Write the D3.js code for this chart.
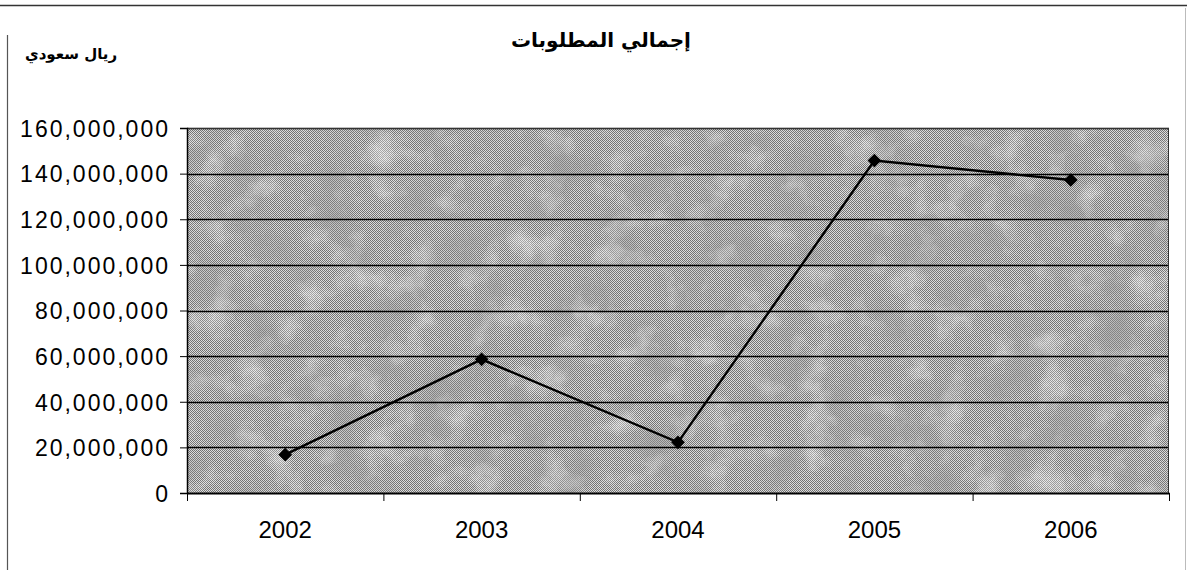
<!DOCTYPE html>
<html>
<head>
<meta charset="utf-8">
<script src="https://cdn.jsdelivr.net/npm/d3@7"></script>
<style>
html,body{margin:0;padding:0;background:#fff;}
svg{display:block;}
</style>
</head>
<body>
<svg id="chart" width="1187" height="570"></svg>
<script>
const categories = ["2002","2003","2004","2005","2006"];
const values = [16800000, 58600000, 22200000, 145700000, 137200000];
const yTicks = [0,20000000,40000000,60000000,80000000,100000000,120000000,140000000,160000000];
const titleText = "إجمالي المطلوبات";
const unitText = "ريال سعودي";

const svg = d3.select("#chart");
const W = 1187, H = 570;
const plot = {left:187, right:1169, top:128, bottom:493};

const defs = svg.append("defs");
// checker dither pattern
const pat = defs.append("pattern").attr("id","checker").attr("patternUnits","userSpaceOnUse")
  .attr("width",2).attr("height",2);
pat.append("rect").attr("width",2).attr("height",2).attr("fill","#e0e0e0");
pat.append("rect").attr("width",1).attr("height",1).attr("fill","#707070").attr("shape-rendering","crispEdges");
pat.append("rect").attr("x",1).attr("y",1).attr("width",1).attr("height",1).attr("fill","#707070").attr("shape-rendering","crispEdges");

// light mottled patches
const f = defs.append("filter").attr("id","tex").attr("x",0).attr("y",0).attr("width","100%").attr("height","100%");
f.append("feTurbulence").attr("type","fractalNoise").attr("baseFrequency","0.03").attr("numOctaves",4).attr("seed",11).attr("result","n");
f.append("feColorMatrix").attr("in","n").attr("type","matrix")
 .attr("values","0 0 0 0 1  0 0 0 0 1  0 0 0 0 1  2.2 0 0 0 -1.15");
// dark mottled patches
const f3 = defs.append("filter").attr("id","tex2").attr("x",0).attr("y",0).attr("width","100%").attr("height","100%");
f3.append("feTurbulence").attr("type","fractalNoise").attr("baseFrequency","0.022").attr("numOctaves",3).attr("seed",29).attr("result","n");
f3.append("feColorMatrix").attr("in","n").attr("type","matrix")
 .attr("values","0 0 0 0 0.3  0 0 0 0 0.3  0 0 0 0 0.3  0 2.2 0 0 -1.05");
// fine grain
const f2 = defs.append("filter").attr("id","grain").attr("x",0).attr("y",0).attr("width","100%").attr("height","100%");
f2.append("feTurbulence").attr("type","fractalNoise").attr("baseFrequency","0.8").attr("numOctaves",1).attr("seed",3).attr("result","n");
f2.append("feColorMatrix").attr("in","n").attr("type","matrix")
 .attr("values","0 0 0 0 0.35  0 0 0 0 0.35  0 0 0 0 0.35  1.6 0 0 0 -0.7");

// outer frame
svg.append("line").attr("x1",0).attr("x2",W).attr("y1",5.5).attr("y2",5.5).attr("stroke","#333").attr("stroke-width",1.5);
svg.append("line").attr("x1",7.5).attr("x2",7.5).attr("y1",35).attr("y2",H).attr("stroke","#555").attr("stroke-width",1.2);
svg.append("line").attr("x1",1185.5).attr("x2",1185.5).attr("y1",8).attr("y2",H).attr("stroke","#bbb").attr("stroke-width",1);

const x = d3.scaleBand().domain(categories).range([plot.left, plot.right]).padding(0);
const y = d3.scaleLinear().domain([0,160000000]).range([plot.bottom, plot.top]);

// plot background texture
const pw = plot.right-plot.left, ph = plot.bottom-plot.top;
const bg = svg.append("g");
bg.append("rect").attr("x",plot.left).attr("y",plot.top).attr("width",pw).attr("height",ph).attr("fill","url(#checker)");
bg.append("rect").attr("x",plot.left).attr("y",plot.top).attr("width",pw).attr("height",ph).attr("filter","url(#tex2)").attr("opacity",0.6);
bg.append("rect").attr("x",plot.left).attr("y",plot.top).attr("width",pw).attr("height",ph).attr("filter","url(#tex)").attr("opacity",0.5);
bg.append("rect").attr("x",plot.left).attr("y",plot.top).attr("width",pw).attr("height",ph).attr("filter","url(#grain)").attr("opacity",0.6);

// gridlines
svg.append("g").selectAll("line").data(yTicks.filter(d=>d>0)).join("line")
  .attr("x1",plot.left).attr("x2",plot.right)
  .attr("y1",d=>Math.round(y(d))+0.5).attr("y2",d=>Math.round(y(d))+0.5)
  .attr("stroke","#000").attr("stroke-width",1.3);

// plot border (top/right)
svg.append("rect").attr("x",plot.left+0.5).attr("y",plot.top+0.5).attr("width",pw-1).attr("height",ph)
  .attr("fill","none").attr("stroke","#333").attr("stroke-width",1);

// y axis
const yAxis = svg.append("g").attr("transform",`translate(${plot.left},0)`)
  .call(d3.axisLeft(y).tickValues(yTicks).tickFormat(d3.format(",")).tickSize(7).tickPadding(10));
yAxis.select(".domain").attr("stroke","#000").attr("stroke-width",1.5);
yAxis.selectAll(".tick line").attr("stroke","#000");
yAxis.selectAll("text").attr("font-family","'Liberation Sans', Arial, sans-serif").attr("font-size","23px")
  .attr("letter-spacing","2px").attr("fill","#000").attr("dy","0.36em");

// x axis
const xAxis = svg.append("g").attr("transform",`translate(0,${plot.bottom})`)
  .call(d3.axisBottom(x).tickSize(0).tickPadding(28));
xAxis.select(".domain").attr("stroke","#000").attr("stroke-width",2);
xAxis.selectAll("text").attr("font-family","'Liberation Sans', Arial, sans-serif").attr("font-size","24px").attr("fill","#000");
const bounds = categories.map(c=>x(c)).concat([plot.right]);
xAxis.selectAll(".bnd").data(bounds).join("line").attr("class","bnd")
  .attr("x1",d=>d+0.5).attr("x2",d=>d+0.5).attr("y1",0).attr("y2",8).attr("stroke","#000");

// line
const data = categories.map((c,i)=>({c, v:values[i]}));
const line = d3.line().x(d=>x(d.c)+x.bandwidth()/2).y(d=>y(d.v));
svg.append("path").datum(data).attr("d",line).attr("fill","none").attr("stroke","#000").attr("stroke-width",2.4);
svg.append("g").selectAll("path").data(data).join("path")
  .attr("d",d3.symbol().type(d3.symbolDiamond2).size(120))
  .attr("transform",d=>`translate(${x(d.c)+x.bandwidth()/2},${y(d.v)})`)
  .attr("fill","#000");

// title
svg.append("text").attr("x",601).attr("y",47).attr("text-anchor","middle")
  .attr("font-family","'DejaVu Sans', 'Noto Sans', sans-serif").attr("font-weight","bold").attr("font-size","20px")
  .attr("direction","rtl").text(titleText);
svg.append("text").attr("x",71).attr("y",59).attr("text-anchor","middle")
  .attr("font-family","'DejaVu Sans', 'Noto Sans', sans-serif").attr("font-weight","bold").attr("font-size","15px")
  .attr("direction","rtl").text(unitText);
</script>
</body>
</html>
